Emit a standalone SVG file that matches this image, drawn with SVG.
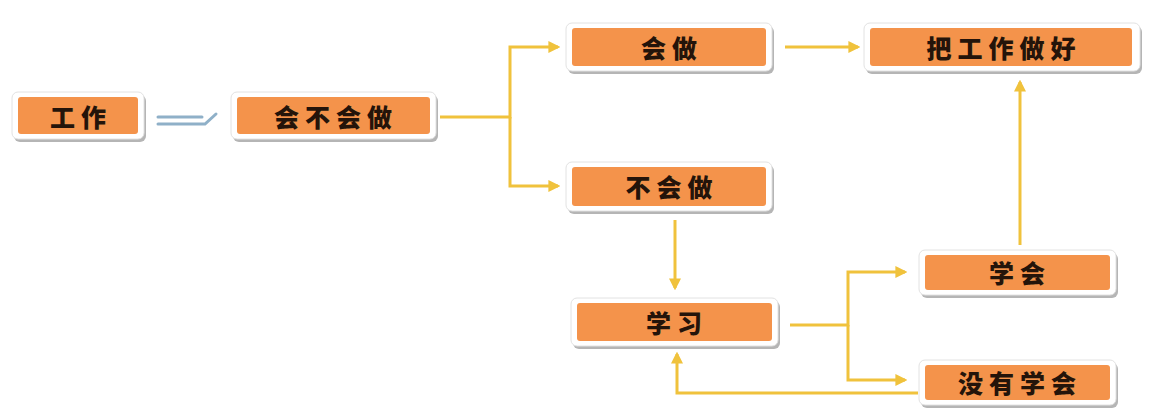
<svg xmlns="http://www.w3.org/2000/svg" width="1169" height="410" viewBox="0 0 1169 410">
<style>
.sh{fill:#b5b5b5}
.fr{fill:#ffffff;stroke:#e2e2e2;stroke-width:1}
.bx{fill:#f4934b}
.t{font-family:"Noto Sans CJK SC","Noto Sans CJK TC",sans-serif;font-weight:900;font-size:25px;letter-spacing:6px;fill:#24140a;text-anchor:middle;dominant-baseline:central}
.c{fill:none;stroke:#f0c23c;stroke-width:3}
.d{fill:none;stroke:#8fb0c8;stroke-width:3;stroke-linecap:round}
</style>
<defs>
<marker id="a" viewBox="0 0 10 10" refX="8" refY="5" markerWidth="4" markerHeight="4" orient="auto-start-reverse">
<path d="M0,0L10,5L0,10z" fill="#f0c23c"/>
</marker>
</defs>
<rect width="1169" height="410" fill="#ffffff"/>
<g id="connectors">
<path class="c" d="M440,117H510V47H558" marker-end="url(#a)"/>
<path class="c" d="M510,117V186H558" marker-end="url(#a)"/>
<path class="c" d="M785,47H858" marker-end="url(#a)"/>
<path class="c" d="M675,220V288" marker-end="url(#a)"/>
<path class="c" d="M790,325H848V272H905" marker-end="url(#a)"/>
<path class="c" d="M848,325V380H905" marker-end="url(#a)"/>
<path class="c" d="M918,393H677V354" marker-end="url(#a)"/>
<path class="c" d="M1020,245V82" marker-end="url(#a)"/>
<path class="d" d="M158,117H202M158,124H205L216,114"/>
</g>
<g id="n1"><rect class="sh" x="14" y="95" width="132" height="47" rx="6"/><rect class="fr" x="12" y="92" width="132" height="47" rx="6"/><rect class="bx" x="18" y="97" width="120" height="37" rx="3"/><text class="t" x="81" y="116">工作</text></g>
<g id="n2"><rect class="sh" x="233" y="95" width="205" height="47" rx="6"/><rect class="fr" x="231" y="92" width="205" height="47" rx="6"/><rect class="bx" x="237" y="97" width="193" height="37" rx="3"/><text class="t" x="336" y="116">会不会做</text></g>
<g id="n3"><rect class="sh" x="568" y="26" width="206" height="48" rx="6"/><rect class="fr" x="566" y="23" width="206" height="48" rx="6"/><rect class="bx" x="572" y="28" width="194" height="38" rx="3"/><text class="t" x="672" y="47">会做</text></g>
<g id="n4"><rect class="sh" x="866" y="26" width="276" height="48" rx="6"/><rect class="fr" x="864" y="23" width="276" height="48" rx="6"/><rect class="bx" x="870" y="28" width="262" height="38" rx="3"/><text class="t" x="1004" y="47">把工作做好</text></g>
<g id="n5"><rect class="sh" x="568" y="165" width="206" height="49" rx="6"/><rect class="fr" x="566" y="162" width="206" height="49" rx="6"/><rect class="bx" x="572" y="167" width="194" height="39" rx="3"/><text class="t" x="672" y="186">不会做</text></g>
<g id="n6"><rect class="sh" x="573" y="301" width="207" height="48" rx="6"/><rect class="fr" x="571" y="298" width="207" height="48" rx="6"/><rect class="bx" x="577" y="303" width="195" height="38" rx="3"/><text class="t" x="677" y="322">学习</text></g>
<g id="n7"><rect class="sh" x="921" y="253" width="197" height="45" rx="6"/><rect class="fr" x="919" y="250" width="197" height="45" rx="6"/><rect class="bx" x="925" y="255" width="185" height="35" rx="3"/><text class="t" x="1020" y="272">学会</text></g>
<g id="n8"><rect class="sh" x="921" y="363" width="197" height="45" rx="6"/><rect class="fr" x="919" y="360" width="197" height="45" rx="6"/><rect class="bx" x="925" y="365" width="185" height="35" rx="3"/><text class="t" x="1020" y="382">没有学会</text></g>
</svg>
